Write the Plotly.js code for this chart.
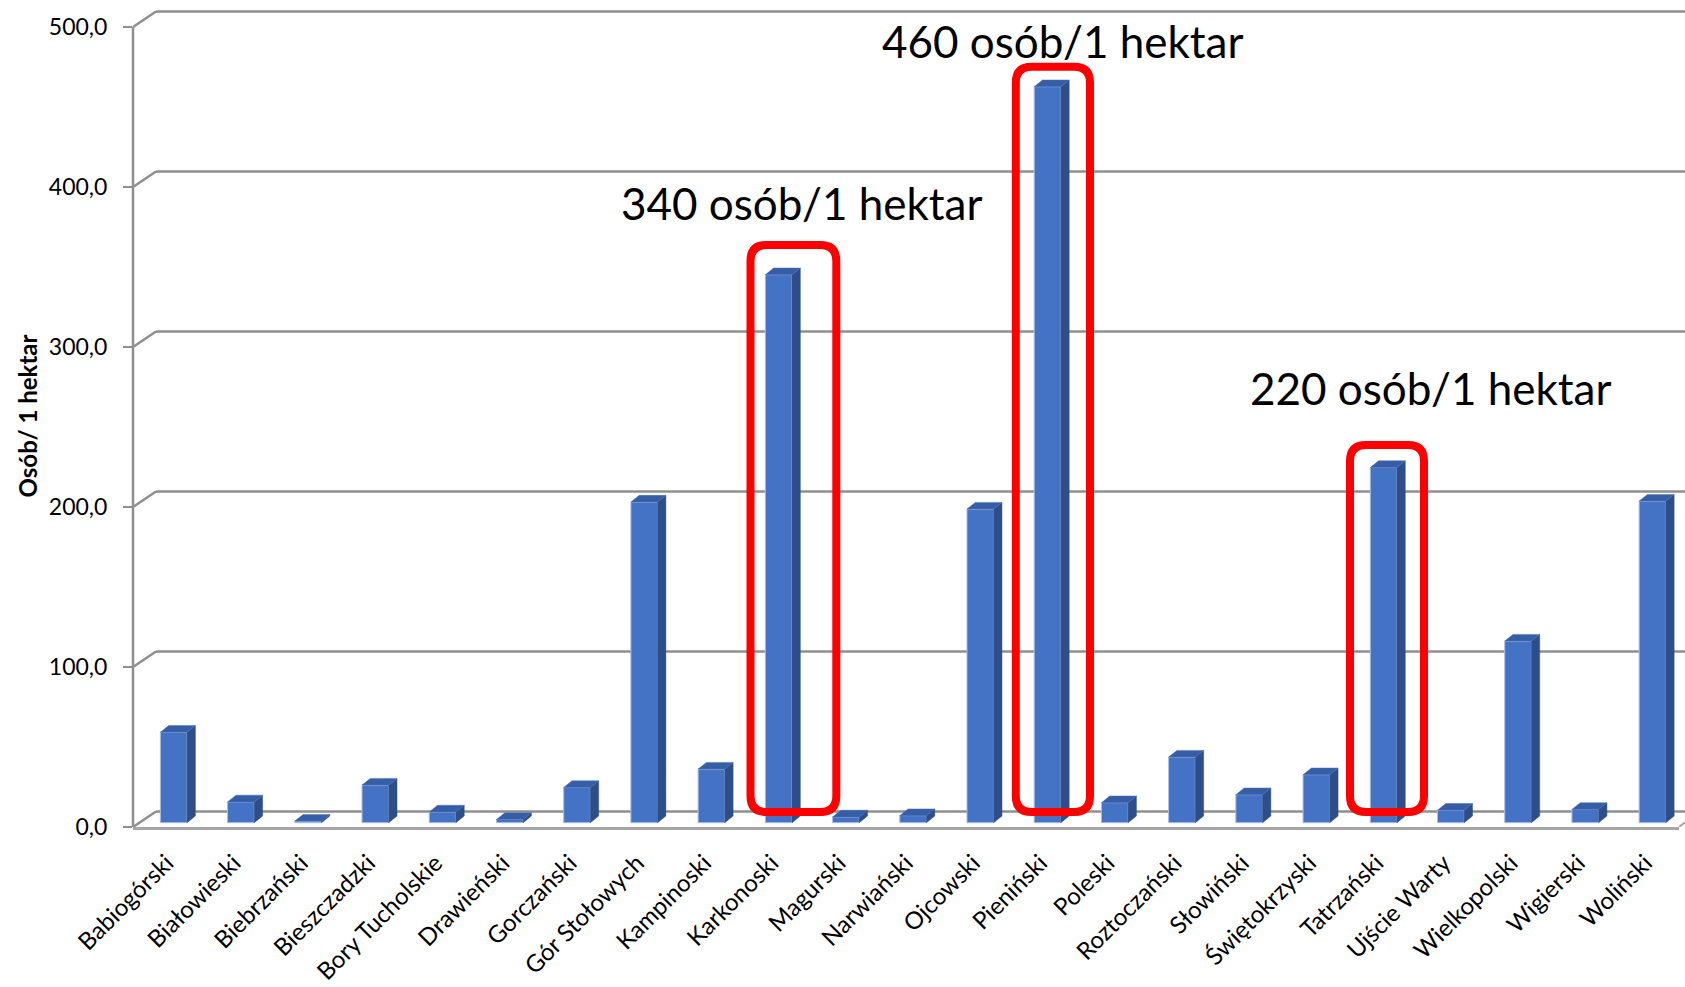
<!DOCTYPE html>
<html>
<head>
<meta charset="utf-8">
<script src="https://cdn.plot.ly/plotly-3.0.1.min.js"></script>
<style>html,body{margin:0;padding:0;background:#fff;}</style>
</head>
<body>
<div id="chart" style="width:1685px;height:987px"></div>
<script>
// ---------------- data ----------------
const categories = ["Babiogórski","Białowieski","Biebrzański","Bieszczadzki","Bory Tucholskie","Drawieński","Gorczański","Gór Stołowych","Kampinoski","Karkonoski","Magurski","Narwiański","Ojcowski","Pieniński","Poleski","Roztoczański","Słowiński","Świętokrzyski","Tatrzański","Ujście Warty","Wielkopolski","Wigierski","Woliński"];
const values = [56.5,13,1,23.5,6.7,2,22,200.4,33.5,342.5,3.6,4.4,196,460,12.5,41,17.5,30,222,7.8,113.5,8.3,201];
const yTickVals = [0,100,200,300,400,500];
const yTickText = ["0,0","100,0","200,0","300,0","400,0","500,0"];
const yTitle = "Osób/ 1 hektar";
const calloutTexts = ["340 osób/1 hektar","460 osób/1 hektar","220 osób/1 hektar"];
const calloutCats = ["Karkonoski","Pieniński","Tatrzański"];

// ---------------- geometry / style ----------------
const W = 1685, H = 987, L = 133, R = 6, T = 5, B = 160;
const plotW = W - L - R, plotH = H - T - B;
const pxPerUnit = 1.6;                 // pixels per data unit on value axis
const barZeroPx = 822.7, backZeroPx = 811.5, frontZeroPx = H - B;
const yMainRange = [-(frontZeroPx - barZeroPx) / pxPerUnit, -(frontZeroPx - barZeroPx) / pxPerUnit + plotH / pxPerUnit];
const yFrontRange = [0, plotH / pxPerUnit];
const yBackRange = [-(frontZeroPx - backZeroPx) / pxPerUnit, -(frontZeroPx - backZeroPx) / pxPerUnit + plotH / pxPerUnit];
const catPx = plotW / categories.length;
const frontW = 26.7 / catPx, frontOff = 7.1 / catPx, depthX = 8.3 / catPx, depthY = 6.7 / pxPerUnit;
const wallDX = 23, wallDYunits = (frontZeroPx - backZeroPx) / pxPerUnit;

const FONT = "Lato, Carlito, 'Liberation Sans', sans-serif";
const cFront = "#4472c4", cSide = "#2e4e8a", cTop = "#365ea6";
const gridCol = "#8f8f8f";

const px2x = p => (p - L) / plotW;
const px2y = p => (H - B - p) / plotH;

const idx = categories.map((c, i) => i);

// side & top faces from the values
const sideX = [], sideY = [], topX = [], topY = [];
idx.forEach(i => {
  const v = values[i];
  const xl = i + frontOff - frontW / 2, xr = i + frontOff + frontW / 2;
  sideX.push(xr, xr + depthX, xr + depthX, xr, xr, null);
  sideY.push(0, depthY, v + depthY, v, 0, null);
  topX.push(xl, xr, xr + depthX, xl + depthX, xl, null);
  topY.push(v, v, v + depthY, v + depthY, v, null);
});

const traces = [
  {type: "bar", x: idx, y: values, base: 0, width: frontW, offset: frontOff - frontW / 2,
   marker: {color: cFront, line: {color: "#a9bfe6", width: 1}}, hoverinfo: "skip", showlegend: false},
  {type: "scatter", x: sideX, y: sideY, mode: "lines", fill: "toself", fillcolor: cSide,
   line: {color: cSide, width: 0.5}, hoverinfo: "skip", showlegend: false},
  {type: "scatter", x: topX, y: topY, mode: "lines", fill: "toself", fillcolor: cTop,
   line: {color: "#4a70b8", width: 0.5}, hoverinfo: "skip", showlegend: false}
];

// ---------------- decoration shapes ----------------
const shapes = [];
yTickVals.forEach(v => {
  // back-wall gridline
  shapes.push({type: "line", xref: "paper", yref: "y3", x0: px2x(L + wallDX), x1: px2x(W), y0: v, y1: v,
               line: {color: gridCol, width: 2.5}, layer: "below"});
  // side-wall connector
  shapes.push({type: "line", xref: "paper", yref: "y3", x0: 0, x1: px2x(L + wallDX), y0: v - wallDYunits, y1: v,
               line: {color: gridCol, width: 2.5}, layer: "below"});
});
// front vertical axis line
shapes.push({type: "line", xref: "paper", yref: "y2", x0: 0, x1: 0, y0: 0, y1: 500,
             line: {color: gridCol, width: 2.5}, layer: "below"});
// floor right edge
shapes.push({type: "line", xref: "paper", yref: "y2", x0: 1, x1: px2x(W), y0: 0, y1: 3,
             line: {color: "#a6a6a6", width: 2}, layer: "below"});

// red rounded frames (hand-drawn highlight), pixel boxes
const frames = [
  [750.5, 245, 836.3, 812],
  [1015.8, 66.7, 1090, 812],
  [1350, 445, 1424, 812]
];
function roundRect(x0, y0, x1, y1, r) {
  const P = (x, y) => px2x(x).toFixed(5) + "," + px2y(y).toFixed(5);
  return "M" + P(x0 + r, y0) + " L" + P(x1 - r, y0) + " Q" + P(x1, y0) + " " + P(x1, y0 + r) +
         " L" + P(x1, y1 - r) + " Q" + P(x1, y1) + " " + P(x1 - r, y1) +
         " L" + P(x0 + r, y1) + " Q" + P(x0, y1) + " " + P(x0, y1 - r) +
         " L" + P(x0, y0 + r) + " Q" + P(x0, y0) + " " + P(x0 + r, y0) + " Z";
}
frames.forEach(f => shapes.push({type: "path", xref: "paper", yref: "paper",
  path: roundRect(f[0], f[1], f[2], f[3], 16), line: {color: "#ff0000", width: 8}, layer: "above"}));

// callout texts (pixel centre x, baseline y)
const calloutPos = [[801, 218], [1062, 56], [1430, 403]];
const annotations = calloutTexts.map((t, k) => ({
  text: t, xref: "paper", yref: "paper", x: px2x(calloutPos[k][0]), y: px2y(calloutPos[k][1] - 15),
  xanchor: "center", yanchor: "middle", showarrow: false, font: {family: FONT, size: 44, color: "#000"}
}));

const layout = {
  width: W, height: H, margin: {l: L, r: R, t: T, b: B, pad: 0},
  paper_bgcolor: "#fff", plot_bgcolor: "rgba(0,0,0,0)",
  showlegend: false, bargap: 0,
  font: {family: FONT, color: "#000"},
  xaxis: {type: "linear", range: [-0.5, categories.length - 0.5], tickmode: "array", tickvals: idx, ticktext: categories,
          tickangle: -45, ticks: "", ticklabelstandoff: 10, tickfont: {family: FONT, size: 24, color: "#000"},
          showgrid: false, zeroline: false, showline: true, linecolor: "#a6a6a6", linewidth: 2.5, fixedrange: true},
  xaxis2: {type: "linear", overlaying: "x", anchor: "y", side: "bottom", range: [-0.5, categories.length - 0.5],
           tickmode: "array", tickvals: idx.concat([categories.length]).map(i => i - 0.5), ticks: "outside", ticklen: 9,
           tickwidth: 2, tickcolor: "#a6a6a6", showticklabels: false, showgrid: false, zeroline: false, showline: false},
  yaxis: {range: yMainRange, showgrid: false, zeroline: false, showticklabels: false, ticks: "", showline: false},
  yaxis2: {overlaying: "y", anchor: "x", side: "left", range: yFrontRange, tickmode: "array", tickvals: yTickVals,
           ticktext: yTickText, ticks: "outside", ticklen: 9, tickwidth: 2, tickcolor: gridCol, ticklabelstandoff: 11,
           tickfont: {family: FONT, size: 23, color: "#000"}, showgrid: false, zeroline: false, showline: false,
           title: {text: yTitle, standoff: 4, font: {family: FONT, size: 24, color: "#000", weight: "bold"}}},
  yaxis3: {overlaying: "y", anchor: "x", side: "left", range: yBackRange, showgrid: false, zeroline: false,
           showticklabels: false, ticks: "", showline: false},
  shapes: shapes,
  annotations: annotations
};

Plotly.newPlot("chart", traces, layout, {displayModeBar: false, staticPlot: true});
</script>
</body>
</html>
